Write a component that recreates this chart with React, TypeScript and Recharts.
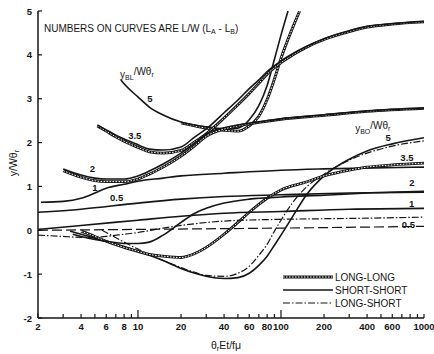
import React from 'react';
import { LineChart, Line, XAxis, YAxis, ReferenceDot, Customized } from 'recharts';

const FONT = "'Liberation Sans', Arial, sans-serif";
const INK = '#151515';

// θrEt/fμ axis (log) and y/Wθr axis
const xTicks = [2, 3, 4, 5, 6, 7, 8, 9, 10, 20, 30, 40, 50, 60, 70, 80, 90, 100, 200, 300, 400, 500, 600, 700, 800, 900, 1000];
const xTickLabels = [2, 4, 6, 8, 10, 20, 40, 60, 80, 100, 200, 400, 600, 1000];
const yTicks = [-2, -1, 0, 1, 2, 3, 4, 5];

// yBL/Wθr, L/W = 5
const bl5ShortX = [7.6, 8, 10, 12, 15, 20, 25, 30, 35, 40, 50, 60, 70, 80, 90, 100, 112];
const bl5ShortY = [3.43, 3.34, 3.04, 2.81, 2.63, 2.47, 2.4, 2.36, 2.33, 2.31, 2.33, 2.52, 2.84, 3.3, 3.9, 4.45, 5.0];
const bl5LongX = [20, 25, 30, 35, 40, 50, 60, 70, 80, 90, 100, 120, 135];
const bl5LongY = [2.45, 2.38, 2.33, 2.3, 2.28, 2.26, 2.38, 2.6, 2.98, 3.45, 3.92, 4.6, 5.0];

// yBL/Wθr, L/W = 3.5
const bl35X = [5.2, 6, 7, 8, 10, 12, 15, 20, 25, 30, 40, 50, 60, 70, 80, 100, 150, 200, 300, 400, 600, 1000];
const bl35ShortY = [2.4, 2.29, 2.17, 2.08, 1.95, 1.85, 1.83, 1.9, 2.13, 2.31, 2.68, 2.97, 3.23, 3.43, 3.62, 3.86, 4.19, 4.37, 4.55, 4.65, 4.71, 4.76];
const bl35LongY = [2.38, 2.26, 2.13, 2.03, 1.89, 1.79, 1.76, 1.82, 2.02, 2.2, 2.56, 2.86, 3.12, 3.35, 3.56, 3.82, 4.17, 4.35, 4.53, 4.63, 4.7, 4.75];

// yBL/Wθr, L/W = 2
const bl2X = [3, 4, 5, 6, 8, 10, 12, 15, 20, 25, 30, 40, 50, 70, 100, 200, 400, 1000];
const bl2ShortY = [1.4, 1.26, 1.19, 1.17, 1.17, 1.24, 1.35, 1.51, 1.76, 1.99, 2.2, 2.34, 2.4, 2.47, 2.54, 2.63, 2.72, 2.79];
const bl2LongY = [1.36, 1.21, 1.13, 1.11, 1.11, 1.17, 1.28, 1.44, 1.69, 1.93, 2.14, 2.31, 2.38, 2.46, 2.53, 2.62, 2.71, 2.78];

// yBL/Wθr, L/W = 1 and 0.5
const bl1X = [2.1, 3, 4, 5, 6, 8, 10, 15, 20, 40, 100, 200, 1000];
const bl1Y = [0.64, 0.66, 0.73, 0.85, 0.96, 1.05, 1.12, 1.19, 1.24, 1.3, 1.37, 1.4, 1.44];
const bl05X = [2, 4, 10, 20, 40, 100, 300, 1000];
const bl05Y = [0.41, 0.48, 0.62, 0.71, 0.77, 0.81, 0.85, 0.87];

// yBO/Wθr, L/W = 5
const bo5ShortX = [3.35, 4, 5, 6, 8, 10, 12, 15, 20, 25, 30, 40, 50, 60, 70, 80, 90, 100, 120, 150, 200, 300, 400, 600, 1000];
const bo5ShortY = [-0.02, -0.09, -0.18, -0.25, -0.37, -0.48, -0.57, -0.69, -0.87, -0.98, -1.05, -1.1, -1.08, -0.98, -0.8, -0.59, -0.34, -0.11, 0.3, 0.8, 1.24, 1.62, 1.81, 1.97, 2.11];
const bo5MixedX = [5.6, 6, 8, 10, 12, 15, 20, 25, 30, 40, 50, 60, 70, 80, 90, 100, 120, 150, 200, 300, 400, 600, 1000];
const bo5MixedY = [0.0, -0.05, -0.27, -0.43, -0.55, -0.69, -0.85, -0.96, -1.03, -1.05, -0.98, -0.82, -0.57, -0.32, -0.02, 0.23, 0.62, 0.98, 1.28, 1.6, 1.76, 1.92, 2.04];

// yBO/Wθr, L/W = 3.5
const bo35X = [4, 5, 6, 8, 10, 12, 15, 20, 25, 30, 40, 50, 60, 70, 80, 100, 150, 200, 300, 400, 600, 1000];
const bo35LongY = [-0.02, -0.14, -0.25, -0.39, -0.48, -0.55, -0.59, -0.62, -0.53, -0.39, -0.09, 0.18, 0.41, 0.59, 0.73, 0.92, 1.1, 1.24, 1.37, 1.44, 1.49, 1.53];

// yBO/Wθr, L/W = 2, 1, 0.5
const bo2X = [3.5, 4, 5, 6, 8, 10, 12, 15, 20, 25, 30, 40, 60, 100, 200, 400, 1000];
const bo2Y = [-0.09, -0.14, -0.21, -0.25, -0.3, -0.3, -0.27, -0.11, 0.18, 0.39, 0.5, 0.62, 0.71, 0.76, 0.8, 0.85, 0.89];
const bo1X = [2, 4, 10, 20, 40, 100, 300, 1000];
const bo1Y = [0.02, 0.11, 0.23, 0.32, 0.39, 0.43, 0.48, 0.5];
const bo1DipX = [2, 3, 4, 5, 6, 8, 10, 15, 20, 40, 100, 300, 1000];
const bo1DipY = [-0.11, -0.14, -0.16, -0.16, -0.14, -0.09, -0.05, 0.05, 0.11, 0.21, 0.25, 0.27, 0.3];
const bo05X = [2, 10, 100, 1000];
const bo05Y = [0.0, 0.02, 0.05, 0.09];

// numbers written along the curves (L/W values)
const curveNotes = [
  { x: 12.1, y: 3.0, text: '5' },
  { x: 9.5, y: 2.15, text: '3.5' },
  { x: 4.8, y: 1.42, text: '2' },
  { x: 5.0, y: 0.98, text: '1' },
  { x: 7.1, y: 0.75, text: '0.5' },
  { x: 561, y: 2.12, text: '5' },
  { x: 760, y: 1.65, text: '3.5' },
  { x: 824, y: 1.1, text: '2' },
  { x: 820, y: 0.62, text: '1' },
  { x: 778, y: 0.14, text: '0.5' },
];
const familyNotes = [
  { x: 7.5, y: 3.57, sub: 'BL' },
  { x: 330, y: 2.33, sub: 'BO' },
];

type Style = 'short' | 'long' | 'mixed' | 'dashed';
type Pt = { x: number; y: number };
const pts = (xs: number[], ys: number[]): Pt[] => xs.map((x, i) => ({ x, y: ys[i] }));

const curves: { id: string; data: Pt[]; style: Style }[] = [
  { id: 'bl5-ll', data: pts(bl5LongX, bl5LongY), style: 'long' },
  { id: 'bl5-ss', data: pts(bl5ShortX, bl5ShortY), style: 'short' },
  { id: 'bl35-ll', data: pts(bl35X, bl35LongY), style: 'long' },
  { id: 'bl35-ss', data: pts(bl35X, bl35ShortY), style: 'short' },
  { id: 'bl2-ll', data: pts(bl2X, bl2LongY), style: 'long' },
  { id: 'bl2-ss', data: pts(bl2X, bl2ShortY), style: 'short' },
  { id: 'bl1', data: pts(bl1X, bl1Y), style: 'short' },
  { id: 'bl05', data: pts(bl05X, bl05Y), style: 'short' },
  { id: 'bo5-ss', data: pts(bo5ShortX, bo5ShortY), style: 'short' },
  { id: 'bo5-ls', data: pts(bo5MixedX, bo5MixedY), style: 'mixed' },
  { id: 'bo35-ll', data: pts(bo35X, bo35LongY), style: 'long' },
  { id: 'bo2', data: pts(bo2X, bo2Y), style: 'short' },
  { id: 'bo1', data: pts(bo1X, bo1Y), style: 'short' },
  { id: 'bo1-dip', data: pts(bo1DipX, bo1DipY), style: 'mixed' },
  { id: 'bo05', data: pts(bo05X, bo05Y), style: 'dashed' },
];

const common = {
  dataKey: 'y',
  type: 'monotone' as const,
  dot: false,
  activeDot: false,
  isAnimationActive: false,
};

const renderCurve = (c: { id: string; data: Pt[]; style: Style }) => {
  if (c.style === 'long') {
    return [
      <Line key={c.id} {...common} data={c.data} stroke={INK} strokeWidth={2.8} />,
      <Line key={c.id + '-in'} {...common} data={c.data} stroke="#fff" strokeWidth={1} strokeDasharray="1.6 1.4" />,
    ];
  }
  if (c.style === 'mixed') {
    return <Line key={c.id} {...common} data={c.data} stroke={INK} strokeWidth={1.2} strokeDasharray="7 2 1.5 2" />;
  }
  if (c.style === 'dashed') {
    return <Line key={c.id} {...common} data={c.data} stroke={INK} strokeWidth={1.2} strokeDasharray="10 4" />;
  }
  return <Line key={c.id} {...common} data={c.data} stroke={INK} strokeWidth={1.6} />;
};

const BottomTick = ({ x, y, payload }: any) => {
  const v = payload.value;
  const len = v === 10 || v === 100 ? 8 : 4;
  return (
    <g>
      <line x1={x} x2={x} y1={y} y2={y - len} stroke={INK} strokeWidth={1.2} />
      {xTickLabels.includes(v) && (
        <text x={x} y={y + 12} textAnchor="middle" fontSize={9.5} fontWeight="bold" fontFamily={FONT} fill={INK}>
          {v}
        </text>
      )}
    </g>
  );
};

const TopTick = ({ x, y, payload }: any) => {
  const v = payload.value;
  const len = v === 10 || v === 100 ? 8 : 4;
  return <line x1={x} x2={x} y1={y} y2={y + len} stroke={INK} strokeWidth={1.2} />;
};

const LeftTick = ({ x, y, payload }: any) => (
  <g>
    <line x1={x} x2={x + 4} y1={y} y2={y} stroke={INK} strokeWidth={1.2} />
    <text x={x - 6} y={y + 3.5} textAnchor="end" fontSize={9.5} fontWeight="bold" fontFamily={FONT} fill={INK}>
      {payload.value}
    </text>
  </g>
);

const RightTick = ({ x, y }: any) => <line x1={x} x2={x - 4} y1={y} y2={y} stroke={INK} strokeWidth={1.2} />;

const CurveNote = ({ viewBox, text }: any) => (
  <text x={viewBox.x} y={viewBox.y + 3.5} textAnchor="middle" fontSize={9.5} fontWeight="bold" fontFamily={FONT} fill={INK}>
    {text}
  </text>
);

const FamilyNote = ({ viewBox, sub }: any) => (
  <text x={viewBox.x} y={viewBox.y + 4} fontSize={10} fontFamily={FONT} fill={INK}>
    y
    <tspan fontSize={7} dy={2}>{sub}</tspan>
    <tspan dy={-5}>/Wθ</tspan>
    <tspan fontSize={7} dy={2}>r</tspan>
  </text>
);

const legendRows: { label: string; style: Style }[] = [
  { label: 'LONG-LONG', style: 'long' },
  { label: 'SHORT-SHORT', style: 'short' },
  { label: 'LONG-SHORT', style: 'mixed' },
];

const Furniture = () => (
  <g fontFamily={FONT} fill={INK}>
    <text x={44} y={32} fontSize={10}>
      NUMBERS ON CURVES ARE L/W (L<tspan fontSize={7} dy={2}>A</tspan>
      <tspan dy={-2}> - L</tspan>
      <tspan fontSize={7} dy={2}>B</tspan>
      <tspan dy={-2}>)</tspan>
    </text>
    <text transform="translate(17,163) rotate(-90)" textAnchor="middle" fontSize={10.5}>
      y/Wθ<tspan fontSize={7.5} dy={2}>r</tspan>
    </text>
    <text x={226} y={349} textAnchor="middle" fontSize={10.5}>
      θ<tspan fontSize={7.5} dy={2}>r</tspan>
      <tspan dy={-2}>Et/fμ</tspan>
    </text>
    {legendRows.map((r, i) => {
      const y = 277 + i * 13;
      return (
        <g key={r.label}>
          {r.style === 'long' ? (
            <>
              <line x1={283} x2={333} y1={y} y2={y} stroke={INK} strokeWidth={2.8} />
              <line x1={283} x2={333} y1={y} y2={y} stroke="#fff" strokeWidth={1} strokeDasharray="1.6 1.4" />
            </>
          ) : (
            <line
              x1={283}
              x2={333}
              y1={y}
              y2={y}
              stroke={INK}
              strokeWidth={r.style === 'short' ? 1.6 : 1.2}
              strokeDasharray={r.style === 'mixed' ? '7 2 1.5 2' : undefined}
            />
          )}
          <text x={335} y={y + 3.5} fontSize={10}>
            {r.label}
          </text>
        </g>
      );
    })}
  </g>
);

export default function App() {
  return (
    <div style={{ position: 'fixed', left: 0, top: 0, width: 434, height: 354, background: '#fff' }}>
      <LineChart width={434} height={354} margin={{ top: 11, right: 10, bottom: 0, left: 0 }}>
        <XAxis
          xAxisId={0}
          dataKey="x"
          type="number"
          scale="log"
          domain={[2, 1000]}
          allowDataOverflow
          ticks={xTicks}
          interval={0}
          height={36}
          tickSize={0}
          tickMargin={0}
          tickLine={false}
          tick={<BottomTick />}
          axisLine={{ stroke: INK, strokeWidth: 1.5 }}
        />
        <XAxis
          xAxisId="top"
          orientation="top"
          dataKey="x"
          type="number"
          scale="log"
          domain={[2, 1000]}
          allowDataOverflow
          ticks={xTicks}
          interval={0}
          height={0}
          tickSize={0}
          tickMargin={0}
          tickLine={false}
          tick={<TopTick />}
          axisLine={{ stroke: INK, strokeWidth: 1.5 }}
        />
        <YAxis
          yAxisId={0}
          type="number"
          domain={[-2, 5]}
          allowDataOverflow
          ticks={yTicks}
          interval={0}
          width={38}
          tickSize={0}
          tickMargin={0}
          tickLine={false}
          tick={<LeftTick />}
          axisLine={{ stroke: INK, strokeWidth: 1.5 }}
        />
        <YAxis
          yAxisId="right"
          orientation="right"
          type="number"
          domain={[-2, 5]}
          allowDataOverflow
          ticks={yTicks}
          interval={0}
          width={0}
          tickSize={0}
          tickMargin={0}
          tickLine={false}
          tick={<RightTick />}
          axisLine={{ stroke: INK, strokeWidth: 1.5 }}
        />
        {curves.map(renderCurve)}
        {curveNotes.map((n, i) => (
          <ReferenceDot
            key={'n' + i}
            x={n.x}
            y={n.y}
            r={0}
            fill="none"
            stroke="none"
            label={(p: any) => <CurveNote {...p} text={n.text} />}
          />
        ))}
        {familyNotes.map((n) => (
          <ReferenceDot
            key={n.sub}
            x={n.x}
            y={n.y}
            r={0}
            fill="none"
            stroke="none"
            label={(p: any) => <FamilyNote {...p} sub={n.sub} />}
          />
        ))}
        <Customized component={Furniture} />
      </LineChart>
    </div>
  );
}
